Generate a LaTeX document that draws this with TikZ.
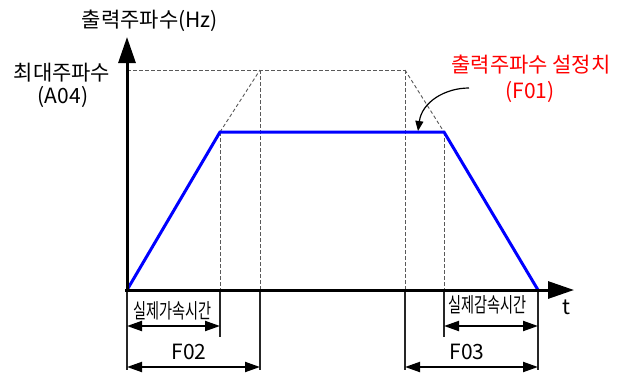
\documentclass[tikz,border=0pt]{standalone}
\usepackage{fontspec}
\setmainfont{Noto Sans CJK KR}
\usetikzlibrary{arrows.meta}
\definecolor{profblue}{RGB}{0,0,255}
\definecolor{annred}{RGB}{255,0,0}
\begin{document}
\begin{tikzpicture}[x=1pt,y=-1pt,
 axis/.style={line width=3pt, -{Triangle[length=26pt,width=17pt]}},
 prof/.style={line width=3pt, draw=profblue, line join=miter},
 guide/.style={black!65, line width=0.9pt, dash pattern=on 3.5pt off 2.5pt},
 ext/.style={line width=1.4pt, black!85},
 dim/.style={line width=2pt, {Triangle[length=15pt,width=10pt]}-{Triangle[length=15pt,width=10pt]}},
 lbl/.style={font=\fontsize{21}{24}\selectfont, inner sep=0},
 sm/.style={font=\fontsize{20.5}{22}\selectfont, inner sep=0}]
\useasboundingbox (0,0) rectangle (622,376);
% key points
\coordinate (O) at (127,290);
\coordinate (A) at (220,132);
\coordinate (B) at (444,132);
\coordinate (C) at (538,290);
\coordinate (P) at (260,70);
\coordinate (Q) at (405,70);
\coordinate (M) at (127,70);
\coordinate (Ytop) at (127,37);
\coordinate (Ybot) at (127,292);
\coordinate (Xend) at (574,290);
\coordinate (Xbeg) at (125,290);
\coordinate (Aax) at (220,290);
\coordinate (Pax) at (260,290);
\coordinate (Qax) at (405,290);
\coordinate (Bax) at (444,290);
\coordinate (Ob) at (127,370);
\coordinate (Ab) at (220,337);
\coordinate (Pb) at (260,370);
\coordinate (Qb) at (405,370);
\coordinate (Bb) at (444,337);
\coordinate (Cb) at (538,370);
% guides
\draw[guide] (M) -- (Q);
\draw[guide] (A) -- (P);
\draw[guide] (Q) -- (B);
\draw[guide] (A) -- (Aax);
\draw[guide] (P) -- (Pax);
\draw[guide] (Q) -- (Qax);
\draw[guide] (B) -- (Bax);
% extension lines
\draw[ext] (O) -- (Ob);
\draw[ext] (Aax) -- (Ab);
\draw[ext] (Pax) -- (Pb);
\draw[ext] (Qax) -- (Qb);
\draw[ext] (Bax) -- (Bb);
\draw[ext] (C) -- (Cb);
% profile
\draw[prof] (O) -- (A) -- (B) -- (C);
% axes
\draw[axis] (Ybot) -- (Ytop);
\draw[axis] (Xbeg) -- (Xend);
% dimension arrows
\draw[dim] (127,326) -- (220,326);
\draw[dim] (127,367) -- (260,367);
\draw[dim] (444,326) -- (538,326);
\draw[dim] (405,367) -- (538,367);
% labels
\node[lbl] (ylab) at (150,21) {출력주파수(Hz)};
\node[lbl] (fmax) at (62,73) {최대주파수};
\node[lbl] (a04) at (63,97) {(A04)};
\node[lbl, text=annred] (fset) at (531,65) {출력주파수 설정치};
\node[lbl, text=annred] (f01) at (530,92) {(F01)};
\node[lbl] (tlab) at (566,307) {t};
\node[sm] (acc) at (172.5,311) {\scalebox{0.69}[1]{실제가속시간}};
\node[sm] (dec) at (487.5,305) {\scalebox{0.69}[1]{실제감속시간}};
\node[lbl] (f02) at (189,352) {F02};
\node[lbl] (f03) at (467,352) {F03};
% annotation arrow
\coordinate (annS) at (469,88);
\coordinate (annT) at (418,131);
\draw[line width=1.2pt, -{Triangle[length=10pt,width=8pt]}] (annS) .. controls (445,88) and (422,102) .. (annT);
\end{tikzpicture}
\end{document}
